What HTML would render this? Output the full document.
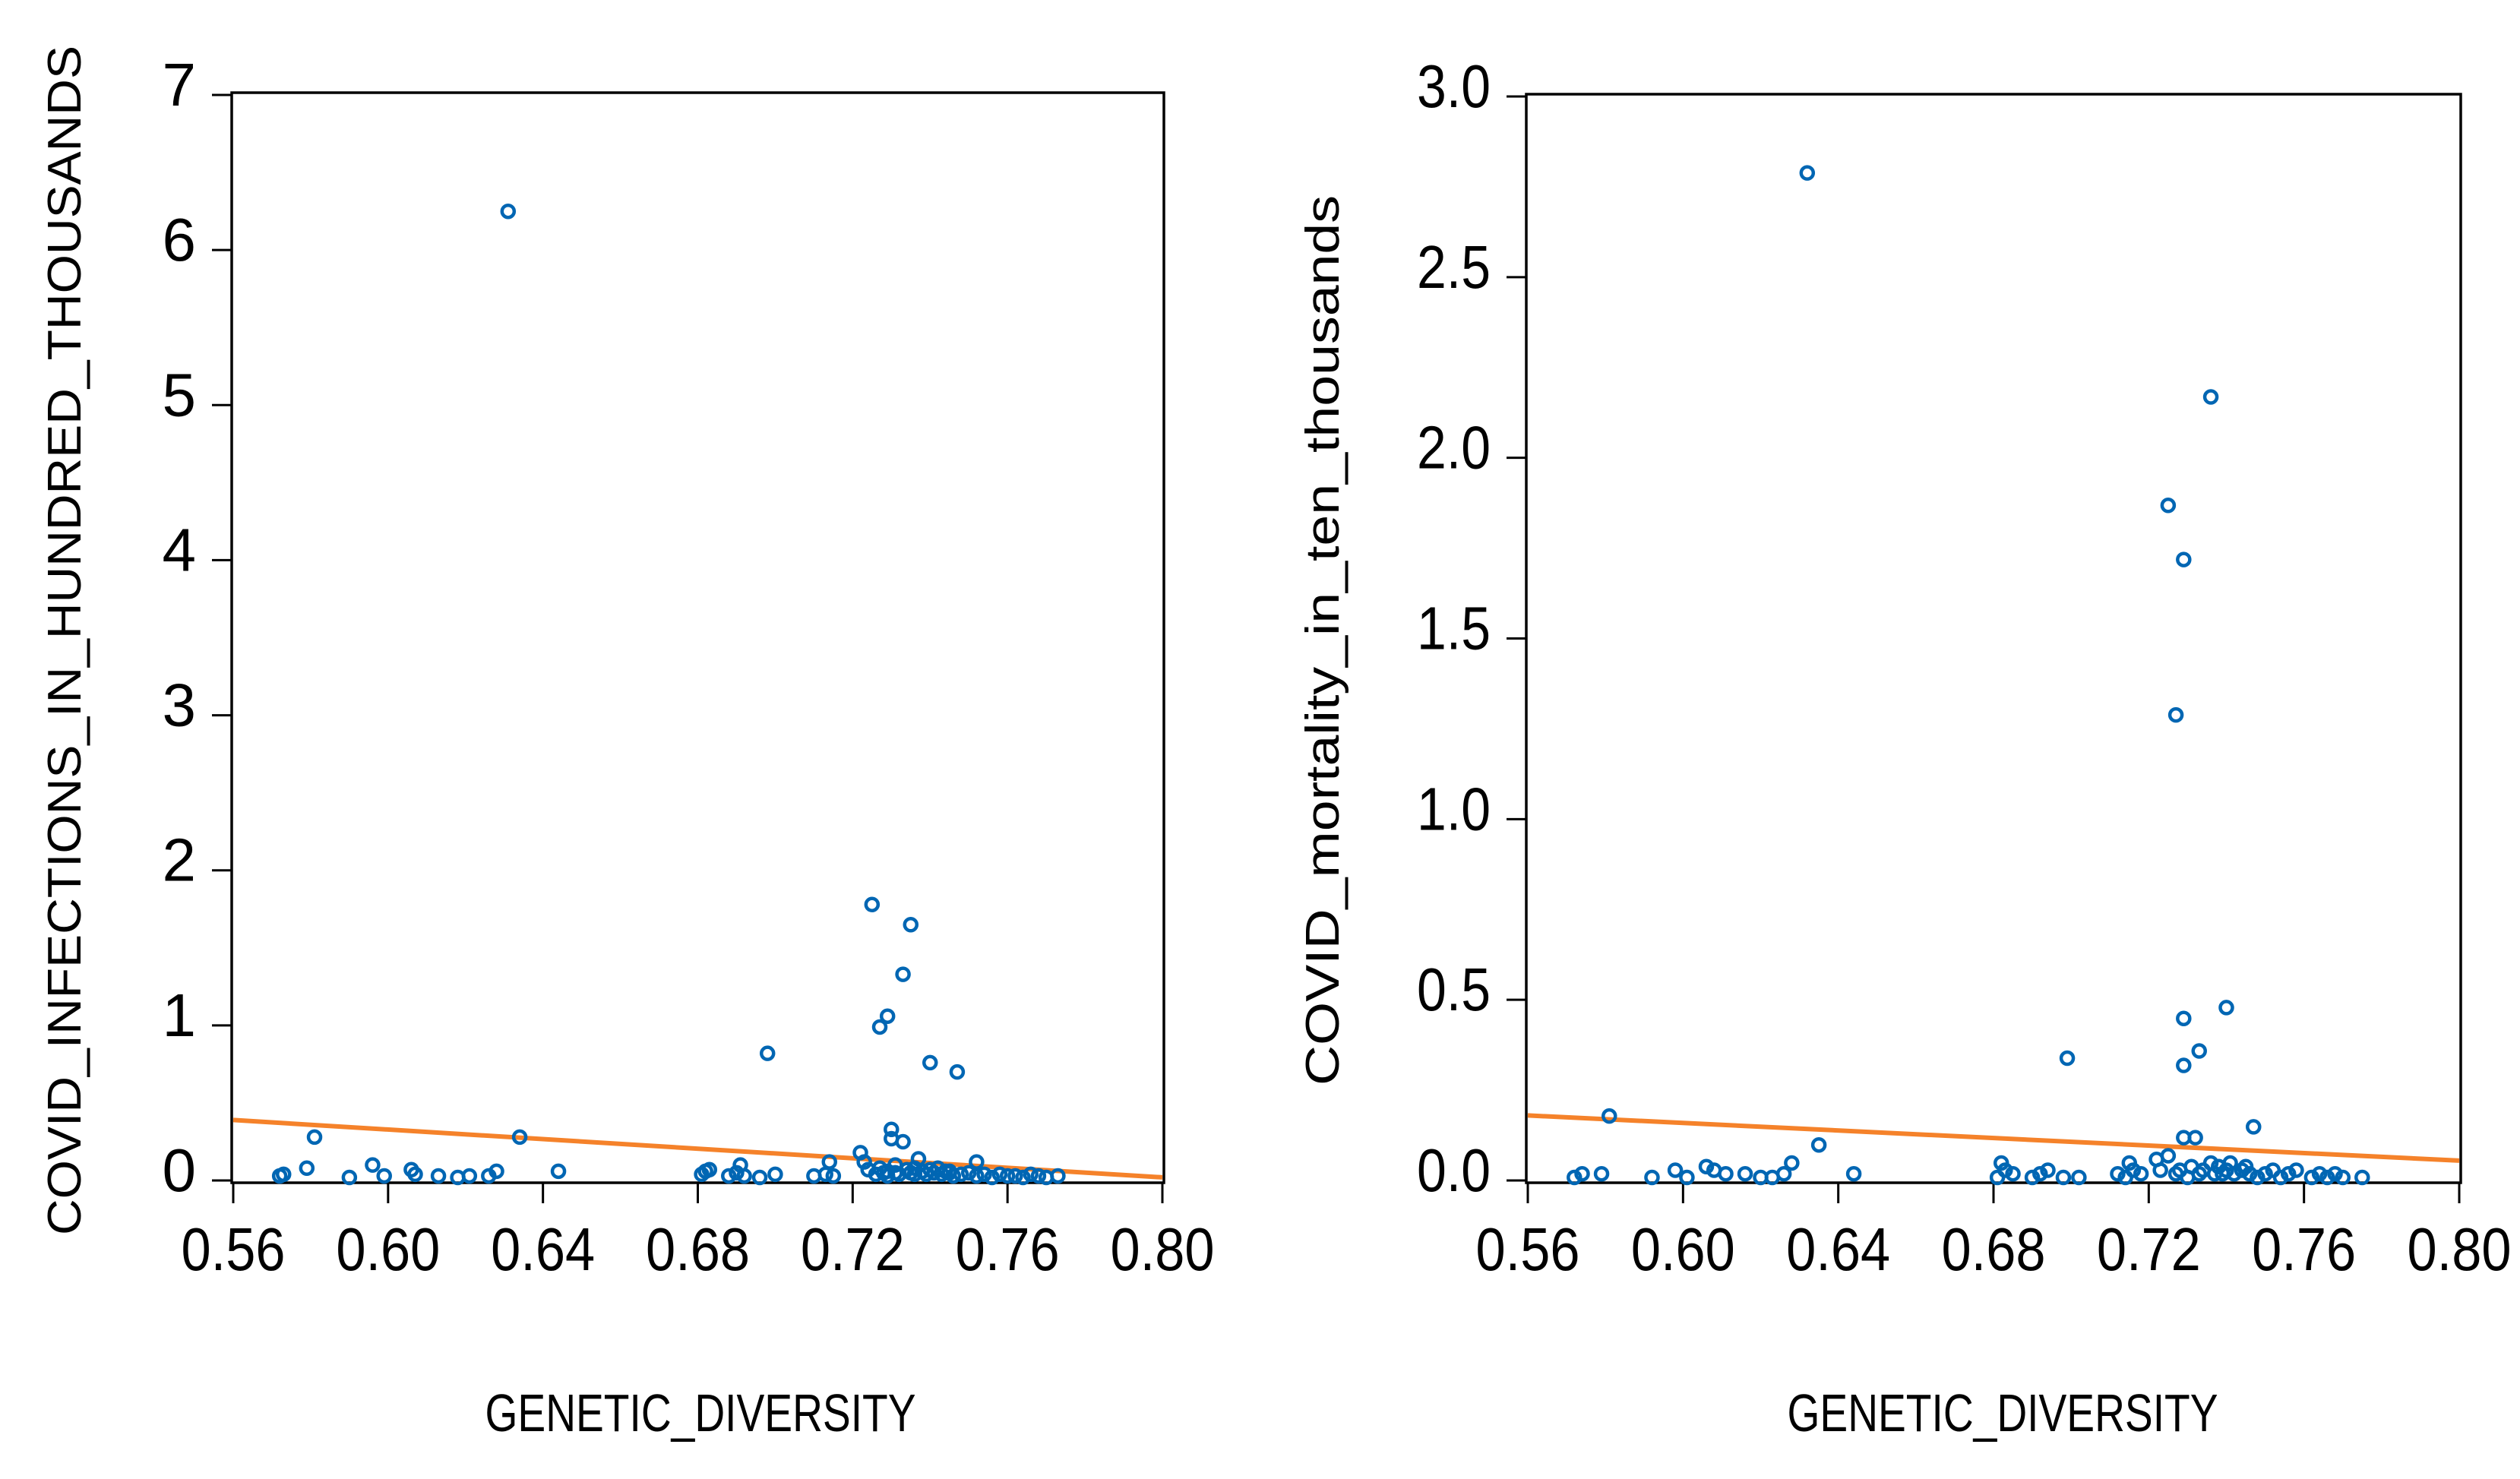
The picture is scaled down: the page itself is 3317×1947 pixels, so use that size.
<!DOCTYPE html>
<html><head><meta charset="utf-8">
<style>
html,body{margin:0;padding:0;background:#fff;}
svg{display:block;}
text{font-family:"Liberation Sans",sans-serif;fill:#000;}
</style></head>
<body>
<svg id="chart" width="3317" height="1947" viewBox="0 0 3317 1947" xmlns="http://www.w3.org/2000/svg">
<rect width="3317" height="1947" fill="#fff"/>
</svg>
<script>
// ---- data: left panel (infections) ----
const xTickLabels = ["0.56","0.60","0.64","0.68","0.72","0.76","0.80"];
const xTicks = [0.56,0.60,0.64,0.68,0.72,0.76,0.80];
const leftYTicks = [0,1,2,3,4,5,6,7];
const leftYLabels = ["0","1","2","3","4","5","6","7"];
const leftX = [0.631,0.725,0.735,0.733,0.729,0.727,0.698,0.740,0.747,0.581,0.634,0.730,0.730,0.733,0.722,0.752,0.691,0.579,0.596,0.606,0.628,0.644,
0.572,0.573,0.590,0.599,0.607,0.613,0.618,0.621,0.626,0.681,0.682,0.683,0.688,0.690,0.692,0.696,0.700,0.710,0.713,0.715,0.714,
0.723,0.724,0.726,0.727,0.728,0.729,0.731,0.732,0.734,0.735,0.736,0.737,0.738,0.739,0.740,0.741,0.742,0.743,0.744,0.745,0.746,0.748,0.750,0.752,0.754,0.756,0.758,0.760,0.762,0.764,0.766,0.768,0.770,0.773,0.736,0.731,0.729,0.745];
const leftY = [6.23,1.76,1.63,1.31,1.04,0.97,0.80,0.74,0.68,0.26,0.26,0.31,0.25,0.23,0.16,0.10,0.08,0.06,0.08,0.05,0.04,0.04,
0.01,0.02,0.00,0.01,0.02,0.01,0.00,0.01,0.01,0.02,0.04,0.05,0.01,0.03,0.01,0.00,0.02,0.01,0.02,0.01,0.10,
0.10,0.05,0.02,0.06,0.03,0.04,0.08,0.02,0.05,0.03,0.06,0.12,0.04,0.02,0.05,0.03,0.06,0.02,0.04,0.03,0.01,0.02,0.03,0.01,0.02,0.00,0.02,0.01,0.01,0.00,0.02,0.01,0.00,0.01,0.02,0.03,0.01,0.04];
const leftFit = [0.39,0.02];

// ---- data: right panel (mortality) ----
const rightYTicks = [0,0.5,1.0,1.5,2.0,2.5,3.0];
const rightYLabels = ["0.0","0.5","1.0","1.5","2.0","2.5","3.0"];
const rightX = [0.632,0.736,0.725,0.729,0.727,0.740,0.729,0.699,0.733,0.729,0.747,0.581,0.635,0.729,0.732,0.722,0.715,0.628,0.606,0.682,
0.572,0.574,0.579,0.592,0.598,0.601,0.608,0.611,0.616,0.620,0.623,0.626,0.644,0.681,0.683,0.685,0.690,0.692,0.694,0.698,0.702,0.712,0.714,0.716,0.718,
0.723,0.725,0.727,0.728,0.730,0.731,0.733,0.734,0.736,0.737,0.738,0.739,0.740,0.741,0.742,0.744,0.745,0.746,0.748,0.750,0.752,0.754,0.756,0.758,0.762,0.764,0.766,0.768,0.770,0.775];
const rightY = [2.78,2.16,1.86,1.71,1.28,0.47,0.44,0.33,0.35,0.31,0.14,0.17,0.09,0.11,0.11,0.05,0.04,0.04,0.03,0.04,
0.00,0.01,0.01,0.00,0.02,0.00,0.02,0.01,0.01,0.00,0.00,0.01,0.01,0.00,0.02,0.01,0.00,0.01,0.02,0.00,0.00,0.01,0.00,0.02,0.01,
0.02,0.06,0.01,0.02,0.00,0.03,0.01,0.02,0.04,0.01,0.03,0.01,0.02,0.04,0.01,0.02,0.03,0.01,0.00,0.01,0.02,0.00,0.01,0.02,0.00,0.01,0.00,0.01,0.00,0.00];
const rightFit = [0.18,0.055];

const NS = "http://www.w3.org/2000/svg";
const svg = document.getElementById('chart');
function mk(tag, attrs, parent){
  const e = document.createElementNS(NS, tag);
  for (const k in attrs) e.setAttribute(k, attrs[k]);
  (parent||svg).appendChild(e);
  return e;
}

function panel(cfg){
  const g = mk('g', {});
  
  
  const xS = v => cfg.x0 + (v - 0.56) / 0.24 * (cfg.x1 - cfg.x0);
  const yS = v => cfg.yb + (v - cfg.ymin) / (cfg.ymax - cfg.ymin) * (cfg.yt - cfg.yb);
  const fr = mk('rect', {x:cfg.x0-2, y:cfg.yt-3, width:cfg.x1-cfg.x0+4, height:cfg.yb-cfg.yt+6, fill:'none', stroke:'#000', 'stroke-width':3.5}, g);
  
  
  xTicks.forEach((t,i)=>{
    const x = xS(t);
    const tk = mk('line', {x1:x, x2:x, y1:cfg.yb+3, y2:cfg.yb+30, stroke:'#000', 'stroke-width':3}, g);
    
    
    const tl = mk('text', {x:x, y:1672, 'font-size':80, 'text-anchor':'middle', textLength:137, lengthAdjust:'spacingAndGlyphs'}, g);
    tl.textContent = xTickLabels[i];
    
    
  });
  cfg.yTicks.forEach((t,i)=>{
    const y = yS(t);
    const tk = mk('line', {x1:cfg.x0-28, x2:cfg.x0-2, y1:y, y2:y, stroke:'#000', 'stroke-width':3}, g);
    
    
    const attrs = {x:cfg.labelRight, y:y+14, 'font-size':80, 'text-anchor':'end'};
    if (cfg.yLabels[i].length > 1) { attrs.textLength = 97; attrs.lengthAdjust = 'spacingAndGlyphs'; }
    const tl = mk('text', attrs, g);
    tl.textContent = cfg.yLabels[i];
    
    
  });
  const fl = mk('line', {x1:xS(0.56), y1:yS(cfg.fit[0]), x2:xS(0.80), y2:yS(cfg.fit[1]), stroke:'#F5822A', 'stroke-width':6}, g);
  
  
  cfg.xs.forEach((xv,i)=>{
    const c = mk('circle', {cx:xS(xv), cy:yS(cfg.ys[i]) - 4, r:8, fill:'none', stroke:'#0066B3', 'stroke-width':4.5}, g);
    
    
  });
  const xt = mk('text', {x:cfg.xTitleX, y:1884, 'font-size':70, 'text-anchor':'middle', textLength:567, lengthAdjust:'spacingAndGlyphs'}, g);
  xt.textContent = 'GENETIC_DIVERSITY';
  
  
  const yt = mk('text', {x:0, y:0, 'font-size':62, 'text-anchor':'middle', textLength:cfg.yTitleLen, lengthAdjust:'spacingAndGlyphs',
     transform:'translate('+cfg.yTitleX+',843) rotate(-90)'}, g);
  yt.textContent = cfg.yTitle;
  
  
}

panel({name:'infections-panel', x0:307, x1:1530, yb:1554, yt:125, ymin:0, ymax:7,
  yTicks:leftYTicks, yLabels:leftYLabels, xs:leftX, ys:leftY, fit:leftFit, labelRight:258,
  xTitleX:922, yTitleX:106, yTitleLen:1566, yTitle:'COVID_INFECTIONS_IN_HUNDRED_THOUSANDS'});
panel({name:'mortality-panel', x0:2011, x1:3237, yb:1554, yt:127, ymin:0, ymax:3,
  yTicks:rightYTicks, yLabels:rightYLabels, xs:rightX, ys:rightY, fit:rightFit, labelRight:1962,
  xTitleX:2636, yTitleX:1762, yTitleLen:1172, yTitle:'COVID_mortality_in_ten_thousands'});
</script>
</body></html>
